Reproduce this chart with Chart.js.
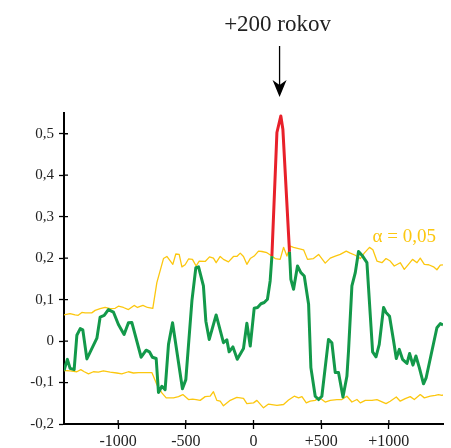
<!DOCTYPE html>
<html>
<head>
<meta charset="utf-8">
<script src="https://cdn.jsdelivr.net/npm/chart.js@4/dist/chart.umd.min.js"></script>
<style>
  html, body { margin: 0; padding: 0; background: #fff; }
  #wrap { width: 451px; height: 448px; }
</style>
</head>
<body>
<div id="wrap"><canvas id="graf"></canvas></div>
<script>
// korelacia (zelena), cervena cast = nad hranicou vyznamnosti
const rokyKor = [-1400,-1375,-1355,-1325,-1305,-1280,-1261,-1231,-1157,-1133,-1103,-1072,-1035,-998,-956,-924,-899,-830,-793,-769,-747,-719,-702,-677,-653,-628,-598,-525,-500,-455,-426,-406,-370,-352,-327,-276,-222,-197,-180,-152,-120,-74,-49,-24,5,30,55,79,103,123,136,173,202,217,266,276,296,325,350,375,407,424,456,481,505,554,579,604,628,661,690,702,727,752,776,806,838,880,905,929,961,979,1005,1035,1055,1077,1101,1134,1153,1178,1200,1225,1256,1276,1355,1380,1400];
const hodnotyKor = [-0.071,-0.044,-0.066,-0.069,0.014,0.030,0.027,-0.043,0.007,0.058,0.062,0.076,0.070,0.040,0.016,0.044,0.045,-0.039,-0.022,-0.026,-0.039,-0.042,-0.124,-0.109,-0.117,-0.008,0.044,-0.115,-0.093,0.097,0.177,0.179,0.133,0.048,0.004,0.063,-0.004,0.003,-0.026,-0.014,-0.044,-0.018,0.043,-0.012,0.079,0.081,0.090,0.093,0.101,0.145,0.205,0.503,0.543,0.511,0.215,0.149,0.125,0.181,0.165,0.157,0.089,-0.064,-0.133,-0.141,-0.133,0.004,-0.004,-0.076,-0.076,-0.135,-0.085,-0.024,0.133,0.165,0.216,0.205,0.189,-0.026,-0.038,-0.008,0.081,0.069,0.060,0.0,-0.042,-0.020,-0.044,-0.054,-0.030,-0.058,-0.036,-0.064,-0.103,-0.088,0.032,0.042,0.039];

// horna hranica alfa = 0,05
const rokyHorna = [-1400,-1355,-1318,-1295,-1268,-1244,-1195,-1170,-1133,-1096,-1059,-1022,-998,-961,-924,-882,-857,-817,-783,-744,-714,-665,-640,-596,-574,-549,-529,-505,-480,-451,-424,-401,-357,-325,-296,-276,-246,-222,-185,-148,-123,-98,-74,-49,-24,5,37,62,99,136,160,197,222,247,271,296,333,370,399,443,481,530,567,604,641,685,715,752,789,818,857,882,912,949,979,1010,1040,1084,1114,1145,1175,1208,1232,1262,1294,1330,1355,1380,1400];
const hodnotyHorna = [0.063,0.066,0.063,0.062,0.069,0.068,0.068,0.074,0.078,0.081,0.078,0.079,0.084,0.081,0.076,0.086,0.081,0.086,0.081,0.079,0.141,0.199,0.204,0.185,0.210,0.209,0.179,0.184,0.198,0.197,0.181,0.193,0.192,0.203,0.200,0.189,0.204,0.197,0.191,0.204,0.204,0.212,0.204,0.185,0.199,0.205,0.217,0.216,0.213,0.205,0.199,0.197,0.226,0.205,0.229,0.226,0.223,0.220,0.197,0.199,0.209,0.188,0.200,0.205,0.209,0.217,0.212,0.207,0.199,0.212,0.226,0.220,0.193,0.189,0.199,0.193,0.181,0.189,0.173,0.185,0.197,0.189,0.200,0.185,0.184,0.179,0.172,0.183,0.184];

// dolna hranica
const rokyDolna = [-1400,-1355,-1305,-1276,-1250,-1219,-1183,-1146,-1109,-1059,-1010,-973,-924,-887,-850,-813,-751,-714,-677,-645,-591,-554,-522,-480,-450,-424,-394,-357,-320,-296,-271,-246,-222,-172,-123,-74,-49,0,25,74,111,173,222,259,301,333,358,390,419,456,481,505,530,567,616,653,690,727,764,789,826,875,912,979,1010,1055,1084,1121,1158,1188,1232,1262,1306,1343,1367,1392,1400];
const hodnotyDolna = [-0.071,-0.072,-0.074,-0.069,-0.074,-0.079,-0.074,-0.075,-0.072,-0.075,-0.077,-0.079,-0.074,-0.077,-0.076,-0.076,-0.076,-0.105,-0.125,-0.137,-0.137,-0.134,-0.129,-0.141,-0.140,-0.141,-0.143,-0.134,-0.133,-0.122,-0.143,-0.145,-0.156,-0.143,-0.136,-0.138,-0.151,-0.149,-0.143,-0.161,-0.152,-0.155,-0.153,-0.142,-0.133,-0.137,-0.134,-0.149,-0.145,-0.143,-0.137,-0.141,-0.147,-0.143,-0.141,-0.141,-0.133,-0.147,-0.141,-0.149,-0.143,-0.143,-0.141,-0.151,-0.145,-0.135,-0.145,-0.139,-0.134,-0.141,-0.129,-0.137,-0.133,-0.131,-0.129,-0.131,-0.130];

const xTicky = [-1000, -500, 0, 500, 1000];
const yTicky = [-0.2, -0.1, 0, 0.1, 0.2, 0.3, 0.4, 0.5];
const vyznacnyRok = 200;

const zelena = "#13994a";
const cervena = "#e8202a";
const zlta = "#fcc70f";
const pismo = "'Liberation Serif', 'DejaVu Serif', serif";

const body = (xs, ys) => xs.map((x, i) => ({ x: x, y: ys[i] }));

// popisky, sipka a ciarky cez osi
const popisky = {
  id: "popisky",
  afterDraw(chart) {
    const c = chart.ctx;
    const sx = chart.scales.x, sy = chart.scales.y;
    const a = chart.chartArea;
    c.save();
    // kratke ciarky dovnutra grafu
    c.strokeStyle = "#000";
    c.lineWidth = 1.3;
    c.beginPath();
    xTicky.forEach((v) => {
      const px = sx.getPixelForValue(v);
      c.moveTo(px, a.bottom);
      c.lineTo(px, a.bottom - 4);
    });
    yTicky.forEach((v) => {
      const py = sy.getPixelForValue(v);
      c.moveTo(a.left, py);
      c.lineTo(a.left + 4, py);
    });
    c.stroke();

    const ax = sx.getPixelForValue(vyznacnyRok) - 1;
    c.fillStyle = "#222";
    c.font = "23px " + pismo;
    c.textAlign = "center";
    c.textBaseline = "middle";
    c.fillText("+200 rokov", ax - 2, 25);
    c.beginPath();
    c.moveTo(ax, 46);
    c.lineTo(ax, 86);
    c.stroke();
    c.beginPath();
    c.moveTo(ax - 7, 80);
    c.lineTo(ax, 97);
    c.lineTo(ax + 7, 80);
    c.lineTo(ax, 85);
    c.closePath();
    c.fillStyle = "#000";
    c.fill();
    c.fillStyle = zlta;
    c.font = "19px " + pismo;
    c.textAlign = "left";
    c.fillText("\u03b1 = 0,05", sx.getPixelForValue(880), sy.getPixelForValue(0.25));
    c.restore();
  }
};

new Chart(document.getElementById("graf"), {
  type: "line",
  data: {
    datasets: [
      {
        data: body(rokyKor, hodnotyKor),
        borderColor: zelena,
        borderWidth: 3,
        segment: {
          borderColor: (ctx) => (ctx.p0.parsed.x >= 130 && ctx.p1.parsed.x <= 270) ? cervena : zelena
        }
      },
      { data: body(rokyHorna, hodnotyHorna), borderColor: zlta, borderWidth: 1.3 },
      { data: body(rokyDolna, hodnotyDolna), borderColor: zlta, borderWidth: 1.3 }
    ]
  },
  options: {
    responsive: true,
    maintainAspectRatio: false,
    animation: false,
    layout: { padding: { top: 113, right: 8, left: 0, bottom: 0 } },
    elements: { point: { radius: 0 }, line: { tension: 0, borderJoinStyle: "round" } },
    plugins: { legend: { display: false }, tooltip: { enabled: false } },
    scales: {
      x: {
        type: "linear",
        min: -1400,
        max: 1400,
        afterBuildTicks: (s) => { s.ticks = xTicky.map((v) => ({ value: v })); },
        afterFit: (s) => { s.height = 24; },
        border: { display: true, color: "#000", width: 2 },
        grid: { drawOnChartArea: false, color: "#000", tickLength: 5, tickWidth: 1.3 },
        ticks: {
          color: "#222",
          font: { family: pismo, size: 16 },
          padding: 3,
          maxRotation: 0,
          callback: (v) => (v > 0 ? "+" + v : String(v))
        }
      },
      y: {
        min: -0.2,
        max: 0.55,
        afterBuildTicks: (s) => { s.ticks = yTicky.map((v) => ({ value: v })); },
        afterFit: (s) => { s.width = 64; },
        border: { display: true, color: "#000", width: 2 },
        grid: { drawOnChartArea: false, color: "#000", tickLength: 5, tickWidth: 1.3 },
        ticks: {
          color: "#222",
          font: { family: pismo, size: 15 },
          padding: 5,
          callback: (v) => (Math.abs(v) < 1e-9 ? "0" : v.toFixed(1).replace(".", ","))
        }
      }
    }
  },
  plugins: [popisky]
});
</script>
</body>
</html>
